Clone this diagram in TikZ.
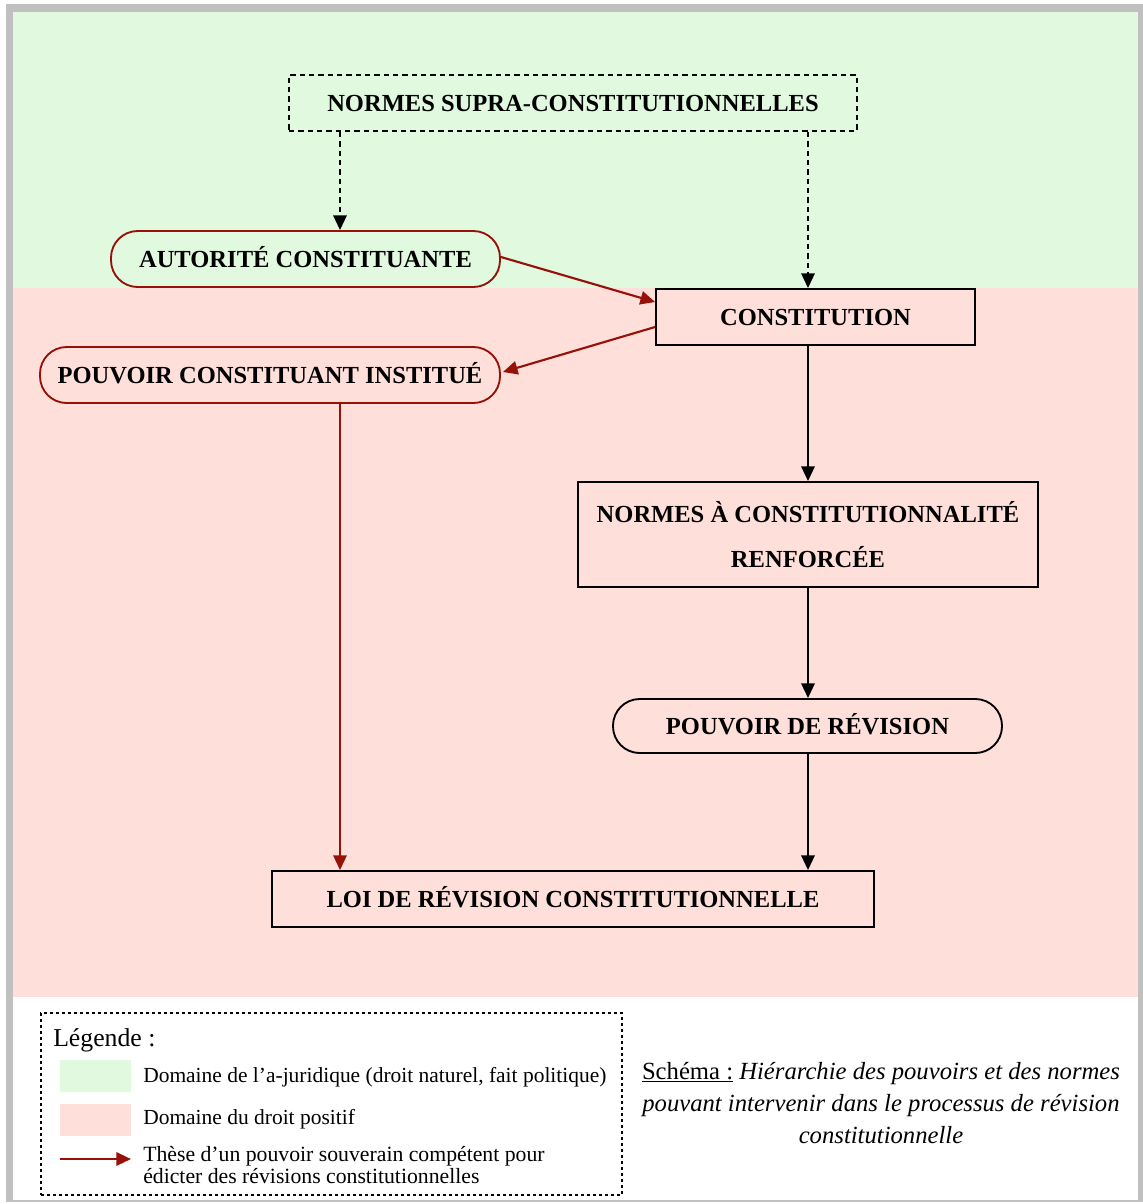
\documentclass[tikz,border=0pt]{standalone}
\usepackage{fontspec}
\setmainfont{Liberation Serif}
\usetikzlibrary{arrows.meta,calc}
\definecolor{frameg}{RGB}{192,192,192}
\definecolor{greenbg}{RGB}{224,249,223}
\definecolor{pinkbg}{RGB}{255,223,218}
\definecolor{darkred}{RGB}{150,18,8}
\tikzset{
  boxbase/.style={draw, line width=1.4pt, inner sep=0pt, anchor=center,
    font=\bfseries\fontsize{18.4}{22}\selectfont, text=black},
  oneline/.style={text height=12.2pt, text depth=0pt},
  rectbox/.style={boxbase, rectangle},
  redpill/.style={boxbase, oneline, draw=darkred, rounded corners=20pt},
  blackpill/.style={boxbase, oneline, rounded corners=20pt},
  dashbox/.style={boxbase, oneline, dash pattern=on 4pt off 3pt},
  tip/.style={-{Triangle[length=11pt,width=10pt]}},
  blackarrow/.style={tip, line width=1.5pt},
  redarrow/.style={tip, line width=1.6pt, draw=darkred, fill=darkred},
  dasharrow/.style={tip, line width=1.5pt, dash pattern=on 4pt off 3pt},
  legendtext/.style={anchor=west, inner sep=0pt, font=\fontsize{16.1}{16}\selectfont}
}
\begin{document}
\begin{tikzpicture}[x=0.75pt,y=-0.75pt]
\useasboundingbox (0,0) rectangle (1143,1204);
% frame and domains
\fill[white] (0,0) rectangle (1143,1204);
\fill[frameg] (6,4) rectangle (1143,1202);
\fill[white] (13,12) rectangle (1138,1200);
\fill[greenbg] (13,12) rectangle (1138,288);
\fill[pinkbg] (13,288) rectangle (1138,997);

\coordinate (xL) at (340,0);
\coordinate (xR) at (808,0);

% nodes
\node[dashbox, minimum width=568*0.75pt, minimum height=56*0.75pt] (nsc) at (573,103) {NORMES SUPRA-CONSTITUTIONNELLES};
\node[redpill, minimum width=389*0.75pt, minimum height=56*0.75pt] (aut) at (305.5,259) {AUTORITÉ CONSTITUANTE};
\node[rectbox, oneline, minimum width=319*0.75pt, minimum height=56*0.75pt] (con) at (815.5,317) {CONSTITUTION};
\node[redpill, minimum width=460*0.75pt, minimum height=56*0.75pt] (pci) at (270,375) {POUVOIR CONSTITUANT INSTITUÉ};
\node[rectbox, minimum width=460*0.75pt, minimum height=105*0.75pt, align=center,
  font=\bfseries\fontsize{18.4}{33.5}\selectfont] (nacr) at (808,534.5) {NORMES À CONSTITUTIONNALITÉ\\RENFORCÉE};
\node[blackpill, minimum width=389*0.75pt, minimum height=54*0.75pt] (pdr) at (807.5,726) {POUVOIR DE RÉVISION};
\node[rectbox, oneline, minimum width=602*0.75pt, minimum height=56*0.75pt] (loi) at (573,899) {LOI DE RÉVISION CONSTITUTIONNELLE};

% connectors
\draw[dasharrow] (nsc.south -| xL) -- (aut.north -| xL);
\draw[dasharrow] (nsc.south -| xR) -- (con.north -| xR);
\draw[redarrow] ($(aut.east)+(0,-2)$) -- ($(con.west)+(0,-15)$);
\draw[redarrow] ($(con.west)+(0,10)$) -- ($(pci.east)+(2,-3)$);
\draw[blackarrow] (con.south -| xR) -- (nacr.north -| xR);
\draw[blackarrow] (nacr.south -| xR) -- (pdr.north -| xR);
\draw[blackarrow] (pdr.south -| xR) -- (loi.north -| xR);
\draw[redarrow] (pci.south -| xL) -- (loi.north -| xL);

% legend
\node[draw, line width=1pt, dash pattern=on 2.5pt off 2pt, minimum width=581*0.75pt, minimum height=182*0.75pt, inner sep=0pt] (leg) at (331.5,1104) {};
\node[legendtext, font=\fontsize{19.3}{20}\selectfont] (legt) at (53,1040) {Légende :};
\node[fill=greenbg, minimum width=71*0.75pt, minimum height=32*0.75pt, inner sep=0pt] (sw1) at (95.5,1076) {};
\node[fill=pinkbg, minimum width=71*0.75pt, minimum height=32*0.75pt, inner sep=0pt] (sw2) at (95.5,1120) {};
\node[legendtext] (lt1) at (143,1077) {Domaine de l’a-juridique (droit naturel, fait politique)};
\node[legendtext] (lt2) at (143,1119) {Domaine du droit positif};
\coordinate (ar1) at (60,1159);
\coordinate (ar2) at (131,1159);
\draw[redarrow] (ar1) -- (ar2);
\node[legendtext, align=left, font=\fontsize{16.3}{10.5}\selectfont] (lt3) at (143,1165) {Thèse d’un pouvoir souverain compétent pour\\édicter des révisions constitutionnelles};

% caption
\node[align=center, inner sep=0pt, font=\fontsize{18.5}{24}\selectfont] (cap) at (881,1103)
  {\underline{Schéma :} \textit{Hiérarchie des pouvoirs et des normes}\\\textit{pouvant intervenir dans le processus de révision}\\\textit{constitutionnelle}};
\end{tikzpicture}
\end{document}
